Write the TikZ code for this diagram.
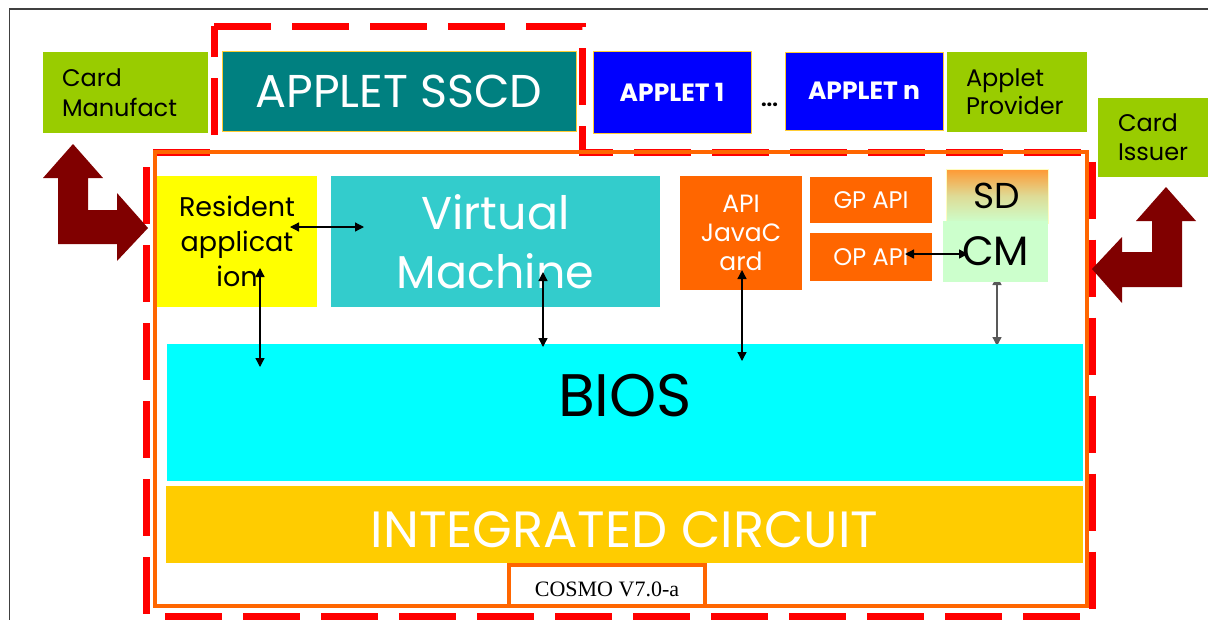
\documentclass[tikz,border=0pt]{standalone}
\usepackage{fontspec}
\setmainfont{Poppins}
\newfontfamily\timesf{Liberation Serif}
\usetikzlibrary{arrows.meta,calc}
\definecolor{cgreen}{HTML}{99CC00}
\definecolor{tealbox}{HTML}{008080}
\definecolor{goldline}{HTML}{FFCC33}
\definecolor{vmc}{HTML}{33CCCC}
\definecolor{apior}{HTML}{FF6600}
\definecolor{sdtop}{HTML}{FF9933}
\definecolor{cmg}{HTML}{CCFFCC}
\definecolor{biosc}{HTML}{00FFFF}
\definecolor{icc}{HTML}{FFCC00}
\definecolor{dred}{HTML}{800000}
\definecolor{frameor}{HTML}{FF6600}
\definecolor{yel}{HTML}{FFFF00}
\definecolor{bluebox}{HTML}{0000FF}
\begin{document}
\begin{tikzpicture}[x=1pt,y=-1pt,
  blk/.style={rectangle,inner sep=0pt,outer sep=0pt,anchor=north west},
  fs/.style 2 args={font=\fontsize{#1}{#2}\selectfont},
  dbl/.style={{Triangle[length=9pt,width=9pt]}-{Triangle[length=9pt,width=9pt]},line width=1.3pt,black},
  bigarrow/.style={fill=dred}
]
\useasboundingbox (0,0) rectangle (1208,619);
\fill[white] (0,0) rectangle (1208,619);
% outer frame
\draw[line width=1.3pt,black!75] (9.5,9) rectangle (1240,650);

% red dashed outline
\draw[red,line width=7pt,dash pattern=on 57pt off 21pt]
  (214,26) -- (582,26) -- (582,152) -- (1092.5,152) -- (1092.5,616.5)
  -- (146.5,616.5) -- (146.5,152) -- (214,152) -- cycle;
% orange chip frame
\draw[frameor,line width=4pt] (155,152) rectangle (1086.5,606);

% top row
\node[blk,fill=cgreen,minimum width=165pt,minimum height=81pt,text width=127pt,align=left,fs={24}{30}] (cmf) at (43,52) {Card\\Manufact};
\node[blk,fill=tealbox,draw=goldline,line width=0.8pt,minimum width=354pt,minimum height=80pt,text=white,fs={46}{52}] (sscd) at (222,51) {APPLET SSCD};
\node[blk,fill=bluebox,draw=goldline,line width=0.8pt,minimum width=158pt,minimum height=82pt,text=white,fs={25}{30}] (ap1) at (593,51) {\bfseries APPLET 1};
\node[blk,fill=bluebox,draw=goldline,line width=0.8pt,minimum width=158pt,minimum height=78pt,text=white,fs={25}{30}] (apn) at (785,52) {\bfseries APPLET n};
\node[fs={20}{24},inner sep=0pt] (dots) at (769.5,105) {\bfseries ...};
\node[blk,fill=cgreen,minimum width=140pt,minimum height=80pt,text width=102pt,align=left,fs={24}{28}] (prov) at (947,52) {Applet\\Provider};
\node[blk,fill=cgreen,minimum width=112pt,minimum height=79pt,text width=72pt,align=left,fs={24}{29}] (iss) at (1098,98) {Card\\Issuer};

% chip contents
\node[blk,fill=yel,minimum width=160pt,minimum height=131pt,align=center,fs={27}{35}] (res) at (157,176) {Resident\\applicat\\ion};
\node[blk,fill=vmc,minimum width=329pt,minimum height=131pt,align=center,text=white,fs={46}{59}] (vm) at (331,176) {Virtual\\Machine};
\node[blk,fill=apior,minimum width=122pt,minimum height=114pt,align=center,text=white,fs={25}{29}] (api) at (680,176) {API\\JavaC\\ard};
\node[blk,fill=apior,minimum width=122pt,minimum height=46pt,text=white,fs={24}{28}] (gp) at (810,177) {GP API};
\node[blk,fill=apior,minimum width=122pt,minimum height=48pt,text=white,fs={24}{28}] (op) at (810,233) {OP API};
\node[blk,top color=sdtop,bottom color=cmg,middle color=sdtop!35!cmg,draw=yellow!25,line width=0.6pt,minimum width=102pt,minimum height=54pt,fs={36}{40}] (sd) at (946,169) {SD};

% CM -- BIOS arrow (drawn under the CM box)
\coordinate (cmb) at (997,276);
\coordinate (bcm) at (997,346);
\draw[dbl,black!65] (cmb) -- (bcm);
\node[blk,fill=cmg,minimum width=105pt,minimum height=61pt,fs={41}{44}] (cm) at (943,221) {CM};

\node[blk,fill=biosc,minimum width=916pt,minimum height=137pt,fs={60}{64}] (bios) at (167,344) {\raisebox{35pt}{BIOS}};
\node[blk,fill=icc,minimum width=917pt,minimum height=77pt,text=white,fs={51}{56}] (ic) at (166,486) {\raisebox{0pt}[\dimexpr\height+9pt\relax][0pt]{INTEGRATED CIRCUIT}};
\node[blk,draw=frameor,line width=4pt,fill=white,minimum width=196pt,minimum height=41pt,font=\timesf\fontsize{22}{26}\selectfont] (cosmo) at (509,565) {\raisebox{0pt}[\dimexpr\height+8pt\relax][0pt]{COSMO V7.0-a}};

% connectors
\coordinate (r1) at (290,227); \coordinate (v1) at (364,227);
\draw[dbl] (r1) -- (v1);
\coordinate (r2) at (260,268); \coordinate (b2) at (260,367);
\draw[dbl] (r2) -- (b2);
\coordinate (v3) at (543,272); \coordinate (b3) at (543,347);
\draw[dbl] (v3) -- (b3);
\coordinate (a4) at (742,270); \coordinate (b4) at (742,361);
\draw[dbl] (a4) -- (b4);
\coordinate (o5) at (905,254); \coordinate (c5) at (968,254);
\draw[dbl] (o5) -- (c5);

% big dark red arrows
\fill[bigarrow] (73,144) -- (103,178) -- (88,178) -- (88,210) -- (117,210) -- (117,193)
  -- (148,228) -- (117,261) -- (117,244) -- (58,244) -- (58,178) -- (43,178) -- cycle;
\fill[bigarrow] (1166,187) -- (1196,221) -- (1182,221) -- (1182,287) -- (1122,287) -- (1122,303)
  -- (1092,269) -- (1122,237) -- (1122,252) -- (1152,252) -- (1152,221) -- (1136,221) -- cycle;
\end{tikzpicture}
\end{document}
